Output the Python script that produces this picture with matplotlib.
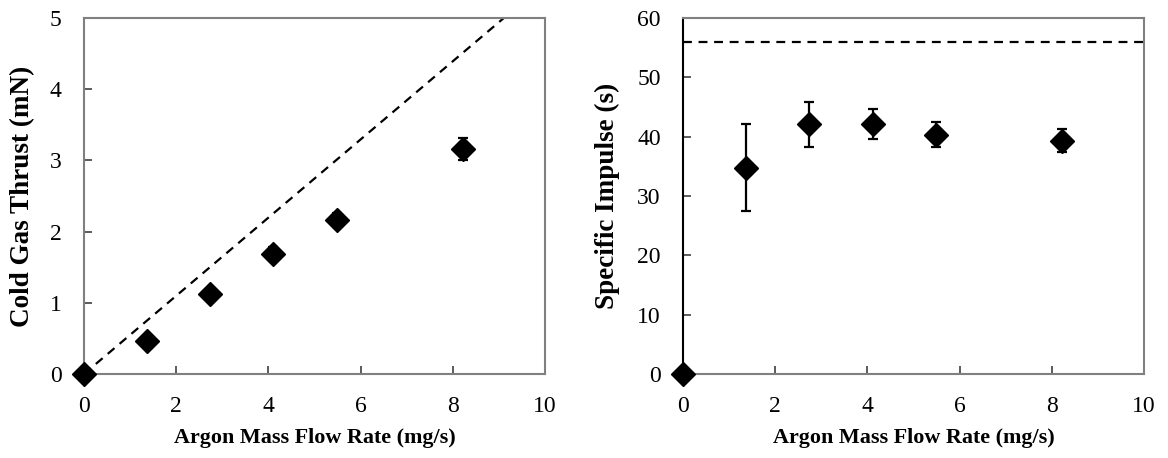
import matplotlib
matplotlib.use('Agg')
import matplotlib.pyplot as plt

# ===== DATA =====
flow = [0.0, 1.37, 2.74, 4.11, 5.48, 8.22]          # argon mass flow rate (mg/s)
thrust = [0.0, 0.46, 1.12, 1.69, 2.16, 3.16]        # cold gas thrust (mN)
thrust_err = [0.0, 0.07, 0.08, 0.09, 0.10, 0.16]
isp = [0.0, 34.8, 42.1, 42.1, 40.3, 39.3]           # specific impulse (s)
isp_err = [0.0, 7.4, 3.8, 2.5, 2.1, 1.95]
ideal_flow = [0.0, 10.0]
ideal_thrust = [0.0, 5.49]                          # ideal line, Isp = 56 s
ideal_isp = 56.0
# ================

plt.rcParams['font.family'] = ['Liberation Serif', 'DejaVu Serif']

fig = plt.figure(figsize=(11.68, 4.58), dpi=100)
ax1 = fig.add_axes([0.0719, 0.1834, 0.3947, 0.7773])
ax2 = fig.add_axes([0.5848, 0.1834, 0.3947, 0.7773])

spine_col = '#808080'
xlab_font = dict(fontsize=15.9, fontweight='bold')
ylab_font = dict(fontsize=19.5, fontweight='bold')

# Left: thrust
ax1.plot(ideal_flow, ideal_thrust, color='black', linestyle=(0, (4, 3)), linewidth=1.6)
ax1.errorbar(flow, thrust, yerr=thrust_err, fmt='D', color='black', markersize=12,
             ecolor='black', elinewidth=1.6, capsize=3.5, capthick=1.6, clip_on=False, zorder=3)
ax1.set_xlim(0, 10)
ax1.set_ylim(0, 5)
ax1.set_xticks([0, 2, 4, 6, 8, 10])
ax1.set_yticks([0, 1, 2, 3, 4, 5])
ax1.set_xlabel('Argon Mass Flow Rate (mg/s)', labelpad=8, **xlab_font)
ax1.set_ylabel('Cold Gas Thrust (mN)', **ylab_font)
ax1.yaxis.set_label_coords(-0.106, 0.5)

# Right: specific impulse
ax2.axhline(ideal_isp, color='black', linestyle=(0, (4, 3)), linewidth=1.6)
ax2.errorbar(flow, isp, yerr=isp_err, fmt='D', color='black', markersize=12,
             ecolor='black', elinewidth=1.6, capsize=3.5, capthick=1.6, clip_on=False, zorder=3)
ax2.set_xlim(0, 10)
ax2.set_ylim(0, 60)
ax2.set_xticks([0, 2, 4, 6, 8, 10])
ax2.set_yticks([0, 10, 20, 30, 40, 50, 60])
ax2.set_xlabel('Argon Mass Flow Rate (mg/s)', labelpad=8, **xlab_font)
ax2.set_ylabel('Specific Impulse (s)', **ylab_font)
ax2.yaxis.set_label_coords(-0.137, 0.5)

for ax in [ax1, ax2]:
    for sp in ax.spines.values():
        sp.set_color(spine_col)
        sp.set_linewidth(1.5)
    ax.tick_params(direction='in', length=6, width=1.2, color='#404040',
                   labelsize=17, pad=16)
ax2.spines['left'].set_color('black')

plt.savefig('out.png', dpi=100)
plt.close('all')
